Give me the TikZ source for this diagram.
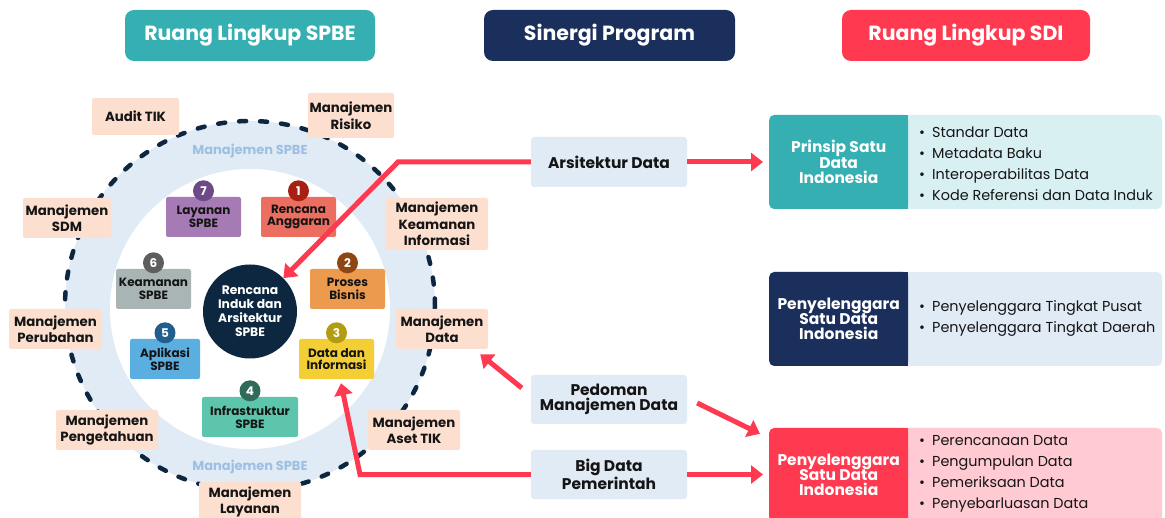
\documentclass[tikz,border=0pt]{standalone}
\usepackage{fontspec}
\setmainfont{Poppins}
\usetikzlibrary{arrows.meta,calc}
\definecolor{cteal}{HTML}{36AFB3}
\definecolor{cnavy}{HTML}{1B2F5C}
\definecolor{cred}{HTML}{FF394F}
\definecolor{cpeach}{HTML}{FDDFCF}
\definecolor{cring}{HTML}{E1EBF5}
\definecolor{cringtxt}{HTML}{9CC0E3}
\definecolor{ccore}{HTML}{0D2740}
\definecolor{clteal}{HTML}{D9F0F2}
\definecolor{clblue}{HTML}{E1EBF5}
\definecolor{clpink}{HTML}{FFCAD2}
\definecolor{ctext}{HTML}{151515}
\definecolor{ca}{HTML}{A67BB5}\definecolor{cab}{HTML}{6D4A87}
\definecolor{cb}{HTML}{EC6E60}\definecolor{cbb}{HTML}{A82014}
\definecolor{cc}{HTML}{EC9B4E}\definecolor{ccb}{HTML}{8E4613}
\definecolor{cd}{HTML}{A9B4B4}\definecolor{cdb}{HTML}{5E5E5E}
\definecolor{ce}{HTML}{5BAEE0}\definecolor{ceb}{HTML}{215E8E}
\definecolor{cf}{HTML}{F3CF35}\definecolor{cfb}{HTML}{B39B12}
\definecolor{cg}{HTML}{5CC5AB}\definecolor{cgb}{HTML}{2F6B58}
\begin{document}
\begin{tikzpicture}[x=1pt,y=-1pt,
  hdr/.style={rounded corners=9pt, text=white, inner sep=0pt, minimum height=51pt,
    font=\fontsize{20.5}{22}\selectfont\bfseries},
  peach/.style={fill=cpeach, rounded corners=2pt, text=ctext, align=center, inner sep=0pt,
    minimum height=40pt, font=\fontsize{13.3}{16.5}\selectfont\bfseries},
  item/.style={rounded corners=2pt, text=ctext, align=center, inner sep=0pt,
    minimum height=40pt, font=\fontsize{12}{12.7}\selectfont\bfseries},
  badge/.style={circle, inner sep=0pt, minimum size=21pt, text=white,
    font=\fontsize{12}{12}\selectfont\bfseries},
  ringlbl/.style={text=cringtxt, font=\fontsize{13}{14}\selectfont\bfseries},
  mid/.style={fill=clblue, rounded corners=3pt, minimum width=156pt, minimum height=50pt,
    inner sep=0pt, align=center, text=ctext, font=\fontsize{15.5}{15.3}\selectfont\bfseries},
  rbox/.style={rounded corners=5pt, minimum height=94pt, inner sep=0pt},
  rtitle/.style={text=white, align=center, font=\fontsize{15.5}{15.3}\selectfont\bfseries},
  rlist/.style={align=left, anchor=west, text=ctext, inner sep=0pt,
    font=\fontsize{14.4}{21}\selectfont},
  arr/.style={draw=cred, line width=5pt, -{Triangle[length=12pt,width=18pt]}}
]
\useasboundingbox (0,0) rectangle (1165,518);
\clip (0,0) rectangle (1165,518);

% headers
\node[hdr, fill=cteal, minimum width=250pt] (h1) at (250,35.5) {Ruang Lingkup SPBE};
\node[hdr, fill=cnavy, minimum width=251pt] (h2) at (609.5,35.5) {Sinergi Program};
\node[hdr, fill=cred, minimum width=248pt] (h3) at (966,35.5) {Ruang Lingkup SDI};

% ring
\fill[cring] (250,306) circle[radius=185];
\fill[white] (250,309) circle[radius=140];
\draw[ccore, line width=4.5pt, dash pattern=on 7pt off 14pt, line cap=round] (250,306) circle[radius=185];
\node[ringlbl] (ms1) at (250,151) {Manajemen SPBE};
\node[ringlbl] (ms2) at (250,467) {Manajemen SPBE};

% peach boxes
\node[peach, minimum width=87pt, minimum height=37pt] (audit) at (135.5,116.5) {Audit TIK};
\node[peach, minimum width=86pt, minimum height=45pt] (risiko) at (351,115.5) {Manajemen\\Risiko};
\node[peach, minimum width=88pt] (sdm) at (67,218) {Manajemen\\SDM};
\node[peach, minimum width=102pt, minimum height=52pt] (keamanan) at (437,224) {Manajemen\\Keamanan\\Informasi};
\node[peach, minimum width=93pt] (perubahan) at (55.5,329) {Manajemen\\Perubahan};
\node[peach, minimum width=92pt] (mdata) at (442,329) {Manajemen\\Data};
\node[peach, minimum width=102pt] (pengetahuan) at (107,430) {Manajemen\\Pengetahuan};
\node[peach, minimum width=92pt] (aset) at (414,430) {Manajemen\\Aset TIK};
\node[peach, minimum width=102pt] (layanan) at (250,502) {Manajemen\\Layanan};

% items
\node[item, fill=ca, minimum width=75pt] (i7) at (203.5,217) {Layanan\\SPBE};
\node[item, fill=cb, minimum width=75pt] (i1) at (298.5,217) {Rencana\\Anggaran};
\node[item, fill=cc, minimum width=75pt] (i2) at (347.5,289) {Proses\\Bisnis};
\node[item, fill=cd, minimum width=75pt] (i6) at (153.5,289) {Keamanan\\SPBE};
\node[item, fill=ce, minimum width=70pt] (i5) at (165,359) {Aplikasi\\SPBE};
\node[item, fill=cf, minimum width=75pt] (i3) at (336.5,359) {Data dan\\Informasi};
\node[item, fill=cg, minimum width=96pt] (i4) at (250,417) {Infrastruktur\\SPBE};
\node[badge, fill=cab] (n7) at ([yshift=6pt]i7.north) {7};
\node[badge, fill=cbb] (n1) at ([yshift=6pt]i1.north) {1};
\node[badge, fill=ccb] (n2) at ([yshift=6pt]i2.north) {2};
\node[badge, fill=cdb] (n6) at ([yshift=6pt]i6.north) {6};
\node[badge, fill=ceb] (n5) at ([yshift=6pt]i5.north) {5};
\node[badge, fill=cfb] (n3) at ([yshift=6pt]i3.north) {3};
\node[badge, fill=cgb] (n4) at ([yshift=6pt]i4.north) {4};

% core
\node[circle, fill=ccore, minimum size=94pt, inner sep=0pt, text=white, align=center,
  font=\fontsize{12.3}{14}\selectfont\bfseries] (core) at (250,311.5) {Rencana\\Induk dan\\Arsitektur\\SPBE};

% middle
\node[mid] (arsdata) at (609,162) {Arsitektur Data};
\node[mid, minimum height=49pt] (pedoman) at (609,399.5) {Pedoman\\Manajemen Data};
\node[mid, minimum height=49pt] (bigdata) at (609,474.5) {Big Data\\Pemerintah};

% right boxes
\node[rbox, fill=clteal, minimum width=393pt] (prinsipbox) at (965.5,162) {};
\node[rbox, fill=cteal, minimum width=139pt, anchor=west] (prinsip) at (769,162) {};
\fill[cteal] ([xshift=-6pt]prinsip.north east) rectangle (prinsip.south east);
\node[rtitle] (prinsipT) at (prinsip.center) {Prinsip Satu\\Data\\Indonesia};
\node[rlist] (prinsipL) at (919,163.5) {\makebox[13pt][l]{•}Standar Data\\\makebox[13pt][l]{•}Metadata Baku\\\makebox[13pt][l]{•}Interoperabilitas Data\\\makebox[13pt][l]{•}Kode Referensi dan Data Induk};

\node[rbox, fill=clblue, minimum width=393pt] (pusatbox) at (965.5,319) {};
\node[rbox, fill=cnavy, minimum width=139pt, anchor=west] (pusat) at (769,319) {};
\fill[cnavy] ([xshift=-6pt]pusat.north east) rectangle (pusat.south east);
\node[rtitle] (pusatT) at (pusat.center) {Penyelenggara\\Satu Data\\Indonesia};
\node[rlist] (pusatL) at (919,318) {\makebox[13pt][l]{•}Penyelenggara Tingkat Pusat\\\makebox[13pt][l]{•}Penyelenggara Tingkat Daerah};

\node[rbox, fill=clpink, minimum width=393pt] (sdibox) at (965.5,475) {};
\node[rbox, fill=cred, minimum width=139pt, anchor=west] (sdi) at (769,475) {};
\fill[cred] ([xshift=-6pt]sdi.north east) rectangle (sdi.south east);
\node[rtitle] (sdiT) at (sdi.center) {Penyelenggara\\Satu Data\\Indonesia};
\node[rlist] (sdiL) at (919,473.5) {\makebox[13pt][l]{•}Perencanaan Data\\\makebox[13pt][l]{•}Pengumpulan Data\\\makebox[13pt][l]{•}Pemeriksaan Data\\\makebox[13pt][l]{•}Penyebarluasan Data};

% arrows
\coordinate (b1) at (398,162);
\coordinate (b5) at (360,474.5);
\draw[arr] (arsdata.west) -- (b1) -- (core.45);
\draw[arr] (arsdata.east) -- ([xshift=-6pt]prinsip.west);
\draw[arr] ([xshift=-9pt,yshift=11.5pt]pedoman.west) -- ([xshift=-8pt,yshift=-5pt]mdata.south east);
\draw[arr] ([xshift=10pt,yshift=-3.5pt]pedoman.east) -- ([xshift=-9pt,yshift=-6pt]sdi.north west);
\draw[arr] (bigdata.west) -- (b5) -- ([xshift=4.5pt,yshift=-4pt]i3.south);
\draw[arr] (bigdata.east) -- ([xshift=-6pt]bigdata.east -| sdi.west);
\end{tikzpicture}
\end{document}
